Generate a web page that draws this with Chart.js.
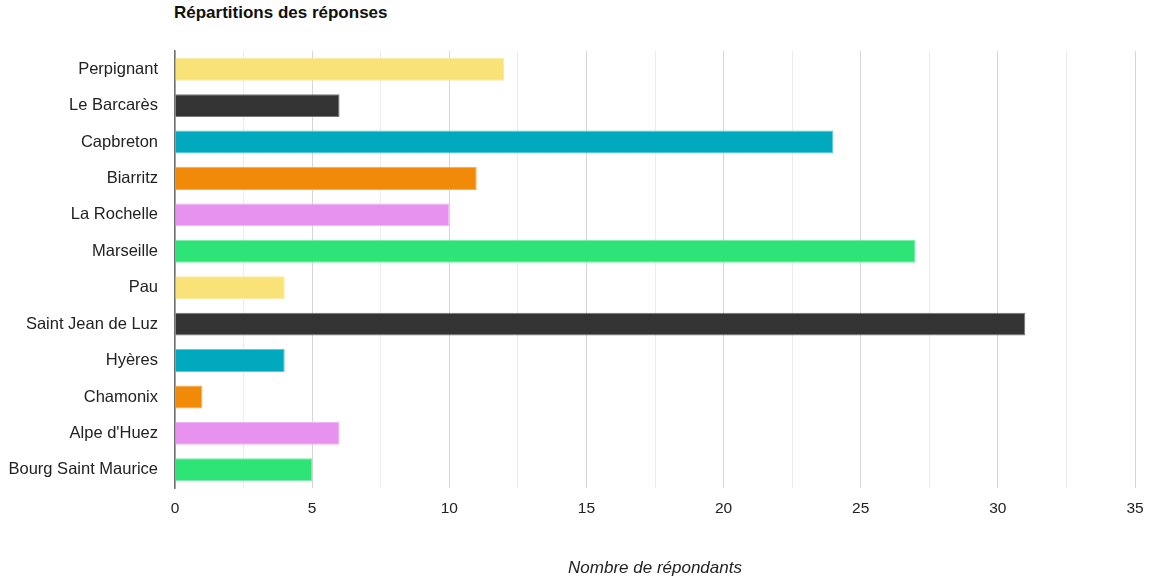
<!DOCTYPE html>
<html>
<head>
<meta charset="utf-8">
<script src="https://cdn.jsdelivr.net/npm/chart.js@4/dist/chart.umd.min.js"></script>
<style>
  html, body { margin: 0; padding: 0; background: #fff; }
  #wrap { position: relative; width: 1149px; height: 582px; }
  #title { position: absolute; left: 174px; top: 3px; line-height: 20px; font: bold 17px "Liberation Sans", Arial, sans-serif; color: #111; white-space: nowrap; }
  canvas { position: absolute; left: 0; top: 0; }
</style>
</head>
<body>
<div id="wrap">
  <div id="title">Répartitions des réponses</div>
  <canvas id="c" width="1149" height="582"></canvas>
</div>
<script>
const categories = ["Perpignant", "Le Barcarès", "Capbreton", "Biarritz", "La Rochelle", "Marseille", "Pau", "Saint Jean de Luz", "Hyères", "Chamonix", "Alpe d'Huez", "Bourg Saint Maurice"];
const respondents = [12, 6, 24, 11, 10, 27, 4, 31, 4, 1, 6, 5];
const barColors = ["#f9e278", "#333333", "#00a9bd", "#f28a09", "#e692ee", "#2ee477", "#f9e278", "#333333", "#00a9bd", "#f28a09", "#e692ee", "#2ee477"];
const borderColors = ["#fbe9a0", "#777777", "#5fc8d5", "#f6ae5a", "#efb5f4", "#7debaa", "#fbe9a0", "#777777", "#5fc8d5", "#f6ae5a", "#efb5f4", "#7debaa"];
const xTitle = "Nombre de répondants";
const xMax = 35;

const FONT = '"Liberation Sans", Arial, sans-serif';

new Chart(document.getElementById('c'), {
  type: 'bar',
  data: {
    labels: categories,
    datasets: [{
      data: respondents,
      backgroundColor: barColors,
      borderColor: borderColors,
      borderWidth: 1,
      barPercentage: 0.63,
      categoryPercentage: 1
    }]
  },
  options: {
    indexAxis: 'y',
    responsive: false,
    animation: false,
    layout: { padding: { top: 51, right: 14, left: 0, bottom: 0 } },
    plugins: { legend: { display: false }, title: { display: false }, tooltip: { enabled: false } },
    scales: {
      x: {
        min: 0, max: xMax,
        ticks: {
          stepSize: 2.5,
          autoSkip: false,
          maxRotation: 0,
          padding: 11,
          color: '#222',
          font: { family: FONT, size: 15.5 },
          callback: (v) => (v % 5 === 0 ? String(v) : '')
        },
        grid: {
          drawTicks: false,
          color: (ctx) => (ctx.tick && ctx.tick.value % 5 === 0 ? '#d6d6d6' : '#ececec'),
          lineWidth: 1
        },
        border: { display: false },
        title: {
          display: true,
          text: xTitle,
          color: '#222',
          font: { family: FONT, size: 17, style: 'italic' },
          padding: { top: 0, bottom: 4 }
        },
        afterFit: (s) => { s.height = 94; s.paddingLeft = 0; s.paddingRight = 0; }
      },
      y: {
        ticks: {
          padding: 17,
          color: '#222',
          font: { family: FONT, size: 16.5 }
        },
        grid: { display: false, drawTicks: false },
        border: { display: true, color: '#707070', width: 1.5 },
        afterFit: (s) => { s.width = 175; }
      }
    }
  }
});
</script>
</body>
</html>
